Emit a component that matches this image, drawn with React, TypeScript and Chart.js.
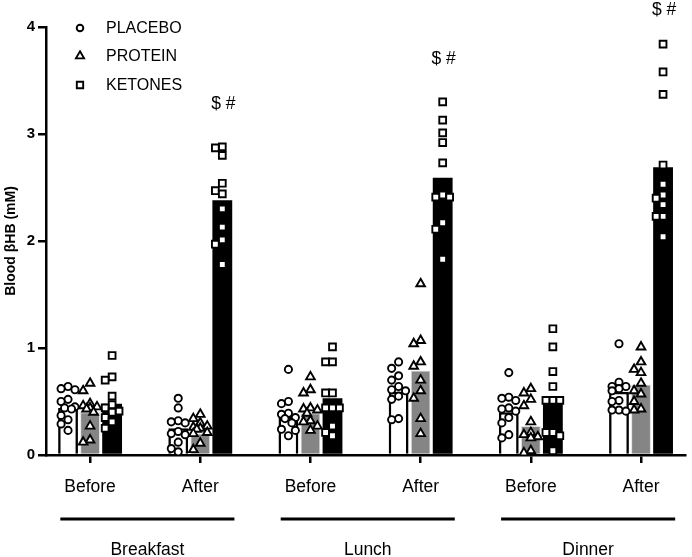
import React, { useEffect, useRef } from "react";
import { Chart, registerables } from "chart.js";

Chart.register(...registerables);

// ---------- data ----------
const categories = ["Before", "After", "Before", "After", "Before", "After"];
const meals = ["Breakfast", "Lunch", "Dinner"];
const seriesNames = ["PLACEBO", "PROTEIN", "KETONES"];
const yTicks = [0, 1, 2, 3, 4];

const placeboMean = [0.44, 0.25, 0.36, 0.59, 0.4, 0.59];
const proteinMean = [0.4, 0.2, 0.39, 0.79, 0.27, 0.66];
const ketoneMean = [0.48, 2.38, 0.53, 2.59, 0.52, 2.69];

const placeboPoints = [
  [0.64, 0.62, 0.61, 0.52, 0.5, 0.45, 0.44, 0.43, 0.37, 0.33, 0.29, 0.23],
  [0.53, 0.44, 0.32, 0.31, 0.3, 0.22, 0.2, 0.19, 0.12, 0.06, 0.03],
  [0.8, 0.5, 0.48, 0.39, 0.38, 0.35, 0.34, 0.3, 0.24, 0.23, 0.18],
  [0.87, 0.81, 0.74, 0.7, 0.64, 0.61, 0.6, 0.55, 0.52, 0.34, 0.33],
  [0.77, 0.54, 0.53, 0.51, 0.44, 0.43, 0.41, 0.35, 0.3, 0.19, 0.16],
  [1.04, 0.68, 0.64, 0.64, 0.62, 0.6, 0.51, 0.5, 0.42, 0.42, 0.41],
];
const proteinPoints = [
  [0.67, 0.6, 0.48, 0.46, 0.45, 0.44, 0.43, 0.4, 0.27, 0.14, 0.12],
  [0.38, 0.34, 0.3, 0.27, 0.26, 0.25, 0.24, 0.21, 0.2, 0.11, 0.05],
  [0.73, 0.61, 0.58, 0.44, 0.43, 0.42, 0.39, 0.32, 0.31, 0.27, 0.23],
  [1.6, 1.07, 1.04, 0.87, 0.83, 0.7, 0.6, 0.53, 0.34, 0.2],
  [0.62, 0.58, 0.52, 0.46, 0.31, 0.21, 0.19, 0.17, 0.16, 0.04, 0.02],
  [1.01, 0.87, 0.8, 0.77, 0.67, 0.6, 0.57, 0.5, 0.43, 0.42],
];
const ketonePoints = [
  [0.93, 0.73, 0.7, 0.55, 0.47, 0.44, 0.41, 0.4, 0.35, 0.31, 0.25],
  [2.88, 2.87, 2.8, 2.54, 2.47, 2.44, 2.3, 2.13, 2.01, 1.97, 1.78],
  [1.01, 0.87, 0.87, 0.58, 0.58, 0.44, 0.44, 0.44, 0.27, 0.21, 0.18],
  [3.3, 3.13, 3.01, 2.92, 2.73, 2.43, 2.41, 2.41, 2.17, 2.11, 1.83],
  [1.18, 1.01, 0.78, 0.64, 0.51, 0.51, 0.51, 0.21, 0.21, 0.18, 0.04],
  [3.84, 3.58, 3.37, 2.71, 2.53, 2.43, 2.4, 2.34, 2.23, 2.23, 2.04],
];

const sigText = "$ #";
const sigCategory = [1, 3, 5];
const sigY = [3.28, 3.7, 4.16];

// ---------- style ----------
const FONT = "'Liberation Sans', Arial, Helvetica, sans-serif";
const groupOffset = [-0.2, 0, 0.2];
const X_PX = 111; // approx px per category unit (for swarm spacing)
const Y_PX = 107; // approx px per mM
const pointStyles = ["circle", "triangle", "rect"];
const pointRadii = [3.6, 5.0, 4.8];
const pointBorderW = 1.9;
const barFill = ["#ffffff", "#858585", "#000000"];
const barBorder = ["#000000", "#e2e2e2", "#000000"];
const barBorderW = [2.6, 1, 0];

// swarm layout: spread tied points sideways, kept inside the bar width
function swarm(values: number[]): number[] {
  const step = 7;
  const minD = 7.5;
  const cands = [0, -step, step, -step / 2, step / 2];
  const order = values.map((_, i) => i).sort((a, b) => values[b] - values[a]);
  const placed: { dx: number; y: number }[] = [];
  const out = new Array(values.length).fill(0);
  for (const i of order) {
    const yPx = values[i] * Y_PX;
    let chosen = 0;
    let best = -1;
    let found = false;
    for (const c of cands) {
      const d = placed.reduce((m, p) => Math.min(m, Math.hypot(p.dx - c, p.y - yPx)), Infinity);
      if (d >= minD) {
        chosen = c;
        found = true;
        break;
      }
      if (d > best) {
        best = d;
        chosen = c;
      }
    }
    if (!found && best < 0) chosen = 0;
    placed.push({ dx: chosen, y: yPx });
    out[i] = chosen / X_PX;
  }
  return out;
}

function drawMarker(ctx: CanvasRenderingContext2D, style: string, x: number, y: number, r: number) {
  ctx.beginPath();
  if (style === "circle") {
    ctx.arc(x, y, r, 0, Math.PI * 2);
  } else if (style === "triangle") {
    let rad = 0;
    ctx.moveTo(x + Math.sin(rad) * r, y - Math.cos(rad) * r);
    rad += (2 * Math.PI) / 3;
    ctx.lineTo(x + Math.sin(rad) * r, y - Math.cos(rad) * r);
    rad += (2 * Math.PI) / 3;
    ctx.lineTo(x + Math.sin(rad) * r, y - Math.cos(rad) * r);
    ctx.closePath();
  } else {
    const s = Math.SQRT1_2 * r;
    ctx.rect(x - s, y - s, 2 * s, 2 * s);
  }
  ctx.fillStyle = "#fff";
  ctx.fill();
  ctx.lineWidth = pointBorderW;
  ctx.strokeStyle = "#000";
  ctx.stroke();
}

const decorPlugin = {
  id: "decor",
  afterDraw(chart: any) {
    const { ctx, chartArea, scales } = chart;
    const xs = scales.x;
    const ys = scales.y;
    ctx.save();
    // legend
    const legY = [28, 56, 85];
    seriesNames.forEach((name, i) => {
      drawMarker(ctx, pointStyles[i], chartArea.left + 34, legY[i], pointRadii[i] - 0.3);
      ctx.fillStyle = "#000";
      ctx.font = `16px ${FONT}`;
      ctx.textAlign = "left";
      ctx.textBaseline = "middle";
      ctx.fillText(name, chartArea.left + 60, legY[i] + 1);
    });
    // significance
    ctx.font = `17.5px ${FONT}`;
    ctx.textAlign = "center";
    ctx.textBaseline = "middle";
    ctx.fillStyle = "#000";
    sigCategory.forEach((c, i) => {
      ctx.fillText(sigText, xs.getPixelForValue(c + groupOffset[2]) + 1, ys.getPixelForValue(sigY[i]));
    });
    // meal group lines + labels
    meals.forEach((m, g) => {
      const x0 = xs.getPixelForValue(2 * g - 0.27);
      const x1 = xs.getPixelForValue(2 * g + 1 + 0.31);
      const ly = chartArea.bottom + 64;
      ctx.beginPath();
      ctx.moveTo(x0, ly);
      ctx.lineTo(x1, ly);
      ctx.lineWidth = 3;
      ctx.strokeStyle = "#000";
      ctx.stroke();
      ctx.font = `17.5px ${FONT}`;
      ctx.textAlign = "center";
      ctx.textBaseline = "middle";
      ctx.fillText(m, (x0 + x1) / 2, chartArea.bottom + 95);
    });
    ctx.restore();
  },
};

export default function App() {
  const ref = useRef<HTMLCanvasElement | null>(null);

  useEffect(() => {
    document.body.style.margin = "0";
    const canvas = ref.current;
    if (!canvas) return;

    const means = [placeboMean, proteinMean, ketoneMean];
    const pts = [placeboPoints, proteinPoints, ketonePoints];

    const scatterSets = pts.map((series, s) => ({
      type: "scatter" as const,
      label: seriesNames[s],
      data: series.flatMap((vals, c) => {
        const off = swarm(vals);
        return vals.map((v, k) => ({ x: c + groupOffset[s] + off[k], y: v }));
      }),
      pointStyle: pointStyles[s],
      pointRadius: pointRadii[s],
      pointHoverRadius: pointRadii[s],
      pointBackgroundColor: "#ffffff",
      pointBorderColor: "#000000",
      pointBorderWidth: pointBorderW,
      showLine: false,
      order: 0,
    }));

    const barSets = means.map((m, s) => ({
      type: "bar" as const,
      label: seriesNames[s] + " mean",
      data: m.map((v, i) => ({ x: i, y: v })),
      backgroundColor: barFill[s],
      borderColor: barBorder[s],
      borderWidth: barBorderW[s],
      categoryPercentage: 0.6,
      barPercentage: 0.9,
      order: 1,
    }));

    const axisGrid = {
      drawOnChartArea: false,
      drawTicks: true,
      tickLength: 8,
      color: "#000",
      lineWidth: 2.5,
      offset: false,
    };

    const chart = new Chart(canvas, {
      type: "bar",
      data: { datasets: [...scatterSets, ...barSets] as any },
      options: {
        animation: false,
        responsive: false,
        maintainAspectRatio: false,
        layout: { padding: { top: 27, left: 0, right: 0, bottom: 0 } },
        plugins: { legend: { display: false }, tooltip: { enabled: false } },
        scales: {
          x: {
            type: "linear",
            offset: false,
            min: -0.4,
            max: 5.4,
            afterBuildTicks: (s: any) => {
              s.ticks = categories.map((_, i) => ({ value: i }));
            },
            afterFit: (s: any) => {
              s.height = 102;
            },
            grid: axisGrid,
            border: { display: true, color: "#000", width: 2.5 },
            ticks: {
              callback: (v: any) => categories[v] ?? "",
              font: { family: FONT, size: 17.5 },
              color: "#000",
              padding: 14,
              maxRotation: 0,
              autoSkip: false,
            },
          },
          y: {
            type: "linear",
            min: 0,
            max: 4,
            afterBuildTicks: (s: any) => {
              s.ticks = yTicks.map((v) => ({ value: v }));
            },
            afterFit: (s: any) => {
              s.width = 46;
            },
            grid: axisGrid,
            border: { display: true, color: "#000", width: 2.5 },
            ticks: {
              font: { family: FONT, size: 15, weight: "bold" },
              color: "#000",
              padding: 3,
            },
            title: {
              display: true,
              text: "Blood βHB (mM)",
              font: { family: FONT, size: 14, weight: "bold" },
              color: "#000",
              padding: { top: 3, bottom: 0 },
            },
          },
        },
      } as any,
      plugins: [decorPlugin],
    });

    return () => chart.destroy();
  }, []);

  return (
    <div style={{ width: 692, height: 557, position: "relative", background: "#fff" }}>
      <canvas ref={ref} width={692} height={557} />
    </div>
  );
}
